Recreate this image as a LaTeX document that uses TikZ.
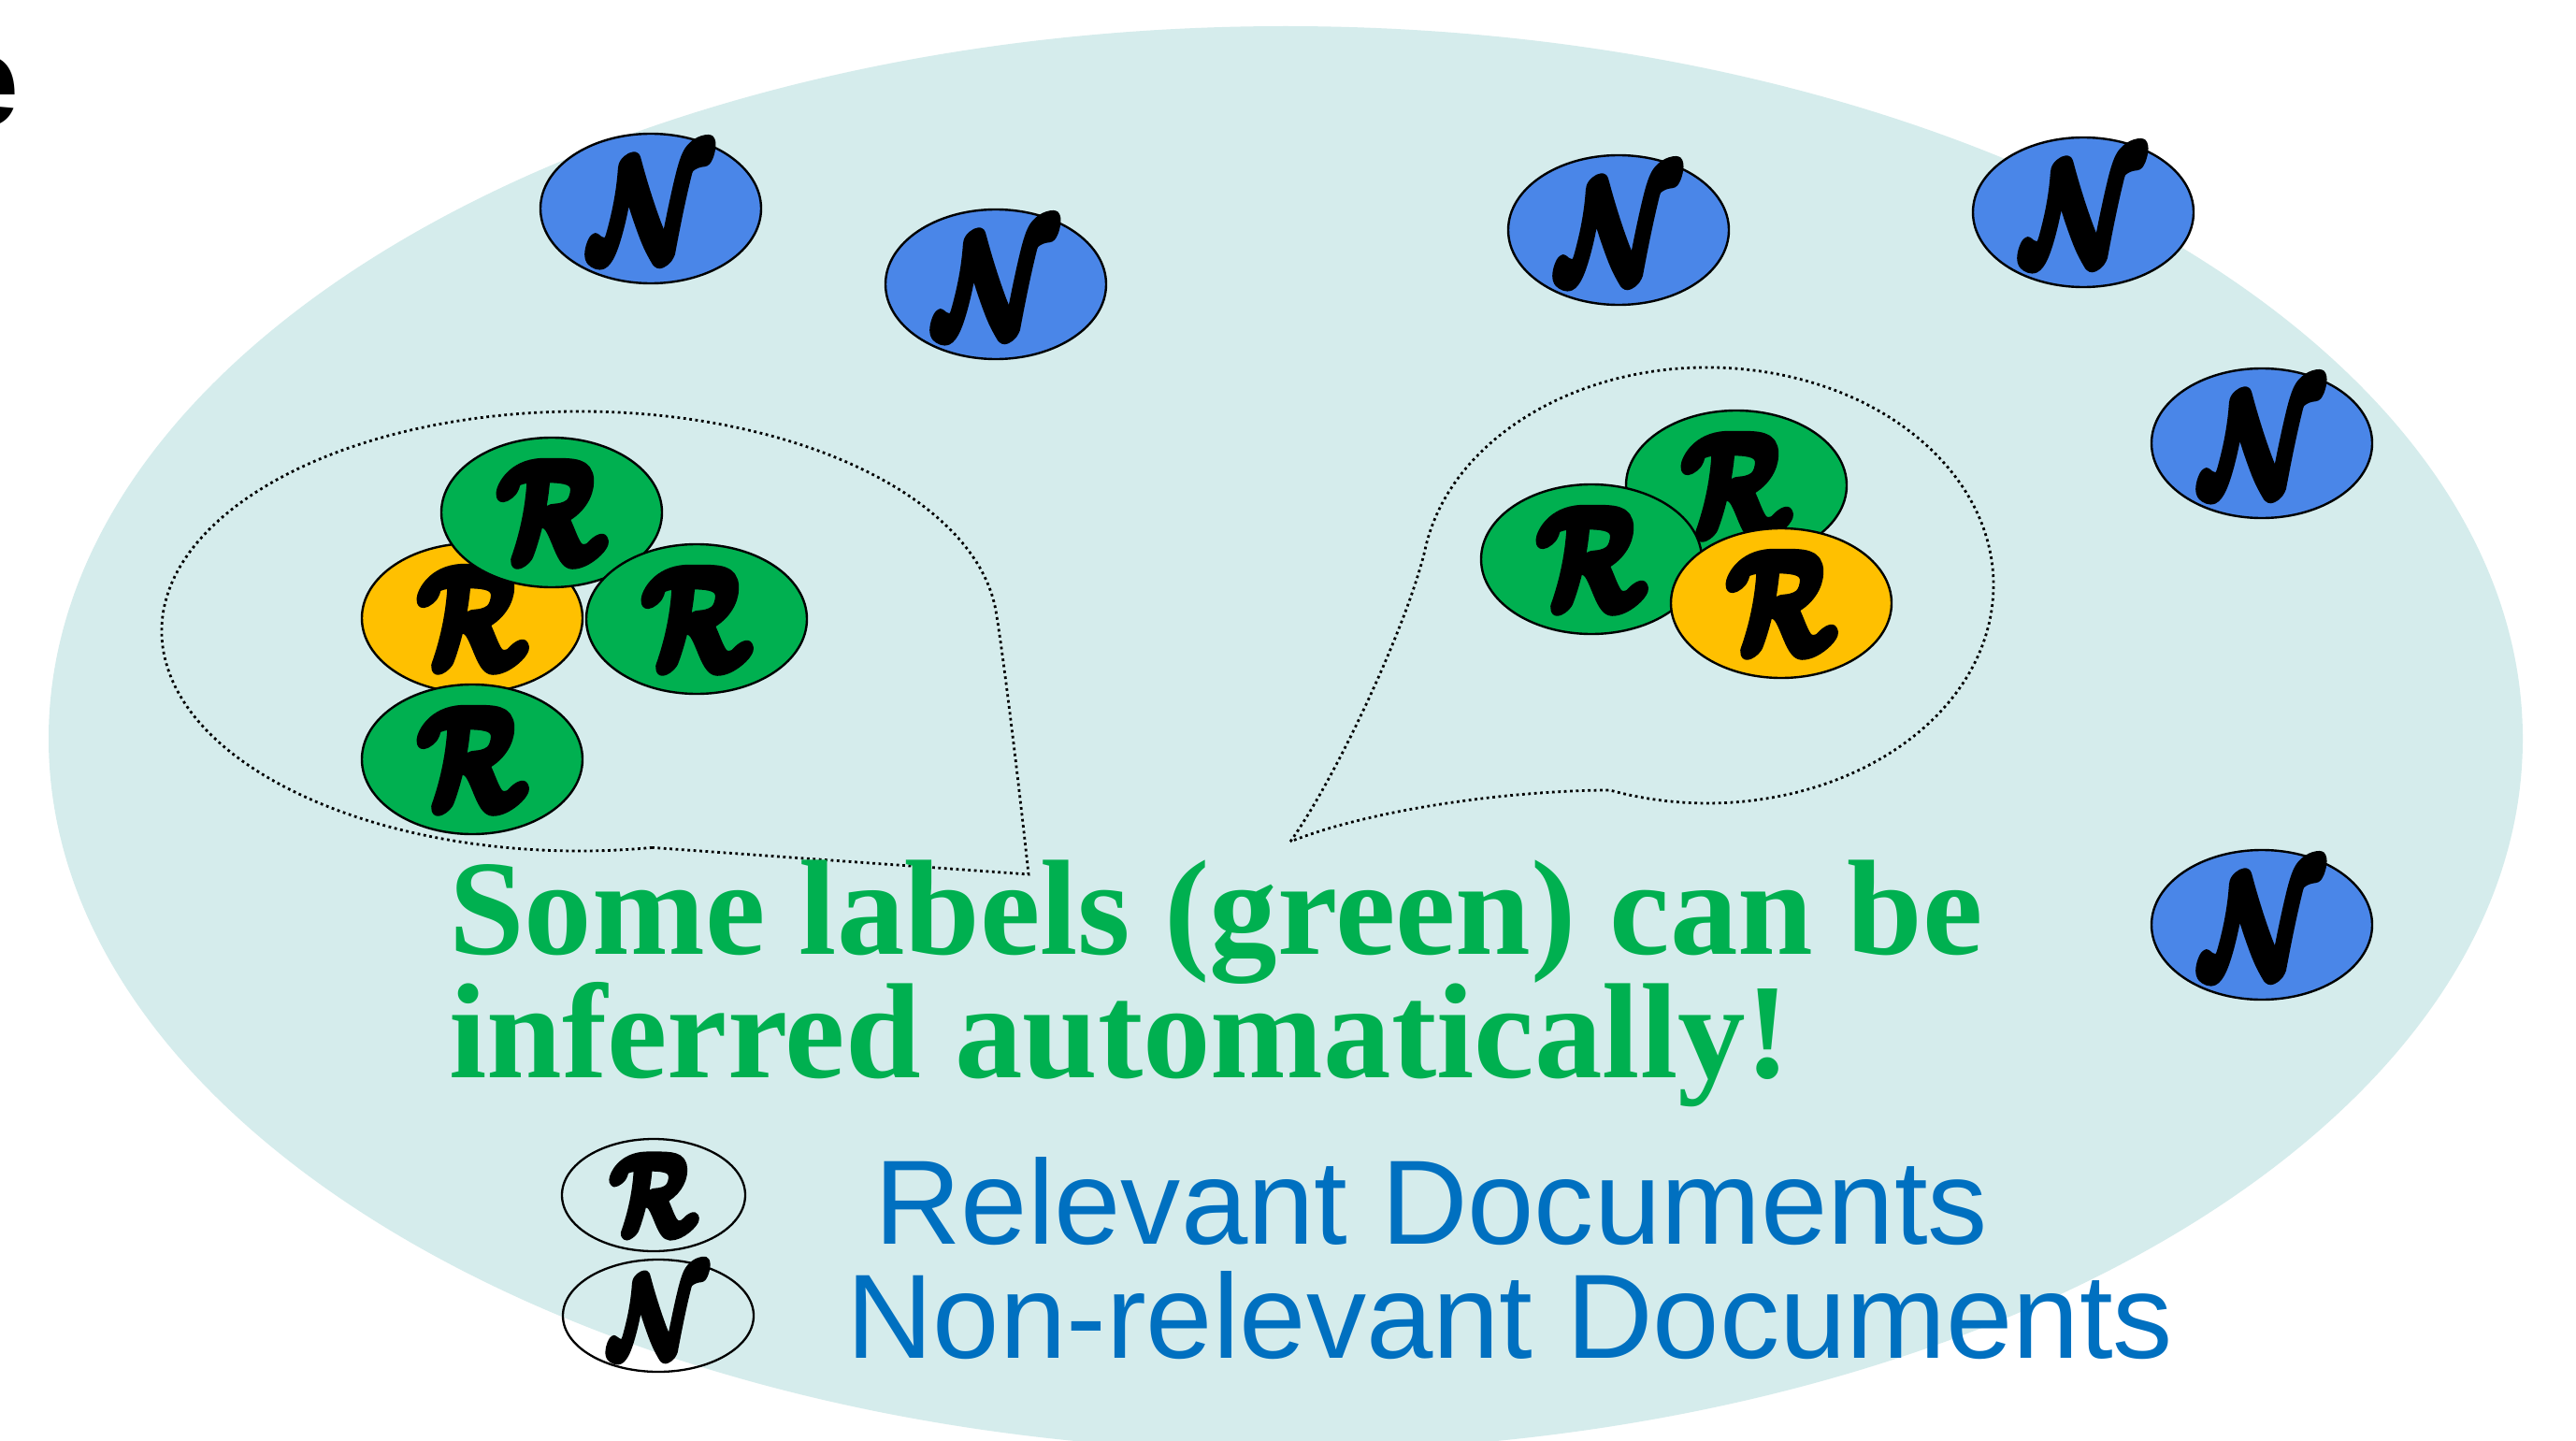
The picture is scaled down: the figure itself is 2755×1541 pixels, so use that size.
\documentclass[tikz,border=0pt]{standalone}
\usepackage{amsmath}
\usepackage{fontspec}
\setmainfont{Liberation Serif}
\setsansfont{Liberation Sans}
\usetikzlibrary{shapes.geometric}
\definecolor{bgteal}{RGB}{213,236,236}
\definecolor{nblue}{RGB}{74,134,232}
\definecolor{rgreen}{RGB}{0,176,80}
\definecolor{ryellow}{RGB}{255,192,0}
\definecolor{txtblue}{RGB}{0,112,192}
\definecolor{txtgreen}{RGB}{0,176,80}
\newcommand\brushglyph[3]{\scalebox{#1}[#2]{\special{pdf:literal direct 2 Tr 0.9 w 1 j}$\boldsymbol{#3}$\special{pdf:literal direct 0 Tr}}}
\newcommand\RR{\brushglyph{11.5}{15}{\mathcal{R}}}
\newcommand\NN{\brushglyph{11.5}{15}{\mathcal{N}}}
\newcommand\RRs{\brushglyph{9.2}{12}{\mathcal{R}}}
\newcommand\NNs{\brushglyph{9.2}{12}{\mathcal{N}}}
\tikzset{
  doc/.style={ellipse, draw=black, line width=2.4pt, minimum width=236pt, minimum height=160pt, inner sep=0pt},
  ndoc/.style={doc, fill=nblue},
  gdoc/.style={doc, fill=rgreen},
  ydoc/.style={doc, fill=ryellow},
  legdoc/.style={ellipse, draw=black, line width=2.3pt, inner sep=0pt, minimum height=120pt},
  bubble/.style={draw=black, line width=2.8pt, dash pattern=on 2.8pt off 3.6pt},
  greentxt/.style={anchor=base west, inner sep=0pt, text=txtgreen, font=\fontsize{145}{160}\selectfont\bfseries},
  bluetxt/.style={anchor=base west, inner sep=0pt, text=txtblue, font=\fontsize{128.3}{140}\selectfont\sffamily},
}
\begin{document}
\begin{tikzpicture}[x=1pt,y=-1pt]
\useasboundingbox (0,0) rectangle (2755,1541);
\fill[white] (0,0) rectangle (2755,1541);
% universe
\fill[bgteal] (1375,790) ellipse [x radius=1323, y radius=762];
% cut-off title letter
\node[anchor=base east, inner sep=0pt, font=\fontsize{139}{150}\selectfont\sffamily\bfseries] (title) at (21,135) {e};
% speech bubbles
\coordinate (tipL) at (1100,935);
\coordinate (tipR) at (1380,900);
\draw[bubble] (697.6,906.4) arc[start angle=80, end angle=355, x radius=447, y radius=235]
   .. controls (1075,714) and (1092,860) .. (tipL) -- cycle;
\draw[bubble] (tipR) .. controls (1430,830) and (1507,664) .. (1524.6,585.5)
   arc[start angle=190, end angle=470, x radius=306, y radius=233]
   .. controls (1600,846) and (1460,868) .. (tipR) -- cycle;
% non-relevant documents
\node[ndoc] (n1) at (696,223) {\NN};
\node[ndoc] (n2) at (1065,304) {\NN};
\node[ndoc] (n3) at (1731,246) {\NN};
\node[ndoc] (n4) at (2228,227) {\NN};
\node[ndoc] (n5) at (2419,474) {\NN};
\node[ndoc] (n6) at (2419,989) {\NN};
% left cluster
\node[ydoc] (ry1) at (505,661) {\RR};
\node[gdoc] (rg1) at (590,548) {\RR};
\node[gdoc] (rg2) at (745,662) {\RR};
\node[gdoc] (rg3) at (505,812) {\RR};
% right cluster
\node[gdoc] (rg4) at (1857,519) {\RR};
\node[gdoc] (rg5) at (1702,598) {\RR};
\node[ydoc] (ry2) at (1905,645) {\RR};
% message
\node[greentxt] (msg1) at (480,1020) {Some labels (green) can be};
\node[greentxt] (msg2) at (480,1152) {inferred automatically!};
% legend
\node[legdoc, minimum width=196pt] (legR) at (699,1278) {\RRs};
\node[legdoc, minimum width=204pt] (legN) at (704,1407) {\NNs};
\node[bluetxt] (legRt) at (935,1330) {Relevant Documents};
\node[bluetxt] (legNt) at (905,1452) {Non-relevant Documents};
\end{tikzpicture}
\end{document}
